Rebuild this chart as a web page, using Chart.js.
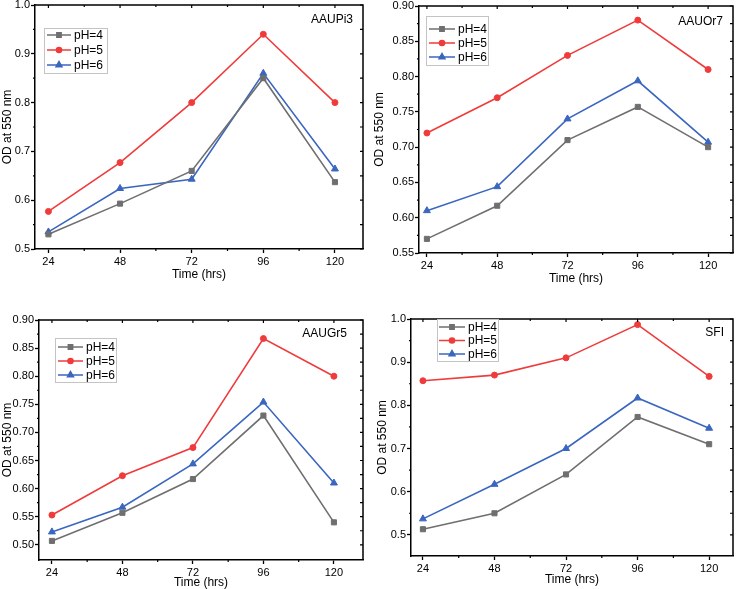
<!DOCTYPE html>
<html>
<head>
<meta charset="utf-8">
<script src="https://cdn.jsdelivr.net/npm/chart.js@4.4.0/dist/chart.umd.min.js"></script>
<style>
  body { margin: 0; background: #fff; }
  canvas { position: absolute; }
</style>
</head>
<body>
<canvas id="AAUPi3Stats" width="370" height="290" style="left:0px;top:0px"></canvas>
<canvas id="AAUOr7Stats" width="371" height="290" style="left:370px;top:0px"></canvas>
<canvas id="AAUGr5Stats" width="370" height="294" style="left:0px;top:295px"></canvas>
<canvas id="SFIStats" width="371" height="294" style="left:370px;top:295px"></canvas>
<script>

//
//
// Data
var hours = [24, 48, 72, 96, 120];
var x_ticks = [24, 48, 72, 96, 120];
var series_labels = ['pH=4', 'pH=5', 'pH=6'];

var aaupi3_ph4 = [0.530, 0.593, 0.660, 0.850, 0.637];
var aaupi3_ph5 = [0.577, 0.677, 0.800, 0.940, 0.800];
var aaupi3_ph6 = [0.535, 0.624, 0.643, 0.860, 0.664];
var aaupi3_y_ticks = [0.5, 0.6, 0.7, 0.8, 0.9, 1.0];

var aauor7_ph4 = [0.570, 0.617, 0.710, 0.757, 0.700];
var aauor7_ph5 = [0.720, 0.770, 0.830, 0.880, 0.810];
var aauor7_ph6 = [0.610, 0.644, 0.740, 0.794, 0.707];
var aauor7_y_ticks = [0.55, 0.60, 0.65, 0.70, 0.75, 0.80, 0.85, 0.90];

var aaugr5_ph4 = [0.507, 0.557, 0.617, 0.730, 0.540];
var aaugr5_ph5 = [0.553, 0.623, 0.673, 0.867, 0.800];
var aaugr5_ph6 = [0.523, 0.567, 0.644, 0.754, 0.610];
var aaugr5_y_ticks = [0.50, 0.55, 0.60, 0.65, 0.70, 0.75, 0.80, 0.85, 0.90];

var sfi_ph4 = [0.513, 0.550, 0.640, 0.773, 0.710];
var sfi_ph5 = [0.857, 0.870, 0.910, 0.987, 0.867];
var sfi_ph6 = [0.537, 0.617, 0.700, 0.817, 0.747];
var sfi_y_ticks = [0.5, 0.6, 0.7, 0.8, 0.9, 1.0];

var series_colors = ['#6f6f6f', '#ef3b3b', '#3a66c0'];
var series_styles = ['rect', 'circle', 'triangle'];
var series_radius = [3.6, 3.0, 4.0];

Chart.defaults.font.family = '"Liberation Sans", Arial, sans-serif';
Chart.defaults.color = '#000';

//
//
// Box, mirrored ticks, panel name and legend
var panelFrame = {
  id: 'panelFrame',
  afterDraw: function(chart) {
    var o = chart.options.plugins.panelFrame;
    var c = chart.ctx;
    var a = chart.chartArea;
    var xs = chart.scales.x;
    var ys = chart.scales.y;
    var i, p;

    c.save();
    c.strokeStyle = '#000';
    c.lineWidth = 1.5;
    c.beginPath();
    c.moveTo(a.left, a.top);
    c.lineTo(a.right, a.top);
    c.lineTo(a.right, a.bottom);
    c.stroke();

    c.lineWidth = 1.2;
    c.beginPath();
    // right side ticks (majors and half steps), left minor ticks
    for (i = 0; i < o.y_ticks.length; i++) {
      p = ys.getPixelForValue(o.y_ticks[i]);
      c.moveTo(a.right, p); c.lineTo(a.right - 3, p);
      if (i < o.y_ticks.length - 1) {
        p = ys.getPixelForValue((o.y_ticks[i] + o.y_ticks[i + 1]) / 2);
        c.moveTo(a.right, p); c.lineTo(a.right - 3, p);
        c.moveTo(a.left, p); c.lineTo(a.left - 2, p);
      }
    }
    // top ticks and bottom minor ticks
    for (i = 0; i < x_ticks.length; i++) {
      p = xs.getPixelForValue(x_ticks[i]);
      c.moveTo(p, a.top); c.lineTo(p, a.top + 3);
      if (i < x_ticks.length - 1) {
        p = xs.getPixelForValue((x_ticks[i] + x_ticks[i + 1]) / 2);
        c.moveTo(p, a.bottom); c.lineTo(p, a.bottom + 2);
        c.moveTo(p, a.top); c.lineTo(p, a.top + 2);
      }
    }
    c.stroke();

    //
    // Panel name
    c.fillStyle = '#000';
    c.font = '12px "Liberation Sans", Arial, sans-serif';
    c.textAlign = 'right';
    c.textBaseline = 'middle';
    c.fillText(o.name, o.name_x, o.name_y);

    //
    // Legend
    var lg = o.legend;
    c.fillStyle = '#fff';
    c.fillRect(lg.x, lg.y, lg.w, lg.h);
    c.strokeStyle = '#c4c4c4';
    c.lineWidth = 1;
    c.strokeRect(lg.x + 0.5, lg.y + 0.5, lg.w, lg.h);
    c.textAlign = 'left';
    chart.data.datasets.forEach(function(ds, k) {
      var ry = lg.row0 + k * lg.step;
      var mx = (lg.line_x0 + lg.line_x1) / 2;
      c.strokeStyle = ds.borderColor;
      c.lineWidth = 1.5;
      c.beginPath();
      c.moveTo(lg.line_x0, ry);
      c.lineTo(lg.line_x1, ry);
      c.stroke();
      Chart.helpers.drawPoint(c, {
        pointStyle: ds.pointStyle,
        radius: ds.pointRadius * 0.85,
        rotation: 0,
        borderWidth: 1
      }, mx, ry);
      c.fillStyle = ds.borderColor;
      c.fill();
      c.fillStyle = '#000';
      c.fillText(ds.label, lg.text_x, ry + 0.5);
    });
    c.restore();
  }
};

//
//
// Draw one panel
function drawPanel(canvas_id, panel_name, ph4, ph5, ph6, y_ticks, y_decimals, L) {

  var canvas = document.getElementById(canvas_id);
  var ctx = canvas.getContext('2d');
  var values = [ph4, ph5, ph6];

  var datasets = values.map(function(vals, k) {
    return {
      label: series_labels[k],
      data: hours.map(function(h, i) { return { x: h, y: vals[i] }; }),
      borderColor: series_colors[k],
      backgroundColor: series_colors[k],
      pointBackgroundColor: series_colors[k],
      pointBorderColor: series_colors[k],
      pointStyle: series_styles[k],
      pointRadius: series_radius[k],
      pointBorderWidth: 1,
      borderWidth: 1.6,
      tension: 0,
      fill: false,
      clip: 6
    };
  });

  new Chart(ctx, {
    type: 'line',
    data: { datasets: datasets },
    options: {
      responsive: false,
      animation: false,
      layout: {
        padding: { left: 0, top: L.top, right: canvas.width - L.right, bottom: 0 }
      },
      plugins: {
        legend: { display: false },
        tooltip: { enabled: false },
        panelFrame: {
          name: panel_name,
          name_x: L.name_x,
          name_y: L.name_y,
          y_ticks: y_ticks,
          legend: L.legend
        }
      },
      scales: {
        x: {
          type: 'linear',
          min: L.x_min,
          max: L.x_max,
          afterBuildTicks: function(s) {
            s.ticks = x_ticks.map(function(v) { return { value: v }; });
          },
          afterFit: function(s) {
            s.height = canvas.height - L.bottom;
            s.paddingLeft = 0;
            s.paddingRight = 0;
          },
          grid: { drawOnChartArea: false, drawTicks: true, tickLength: 4, tickColor: '#000', tickWidth: 1.3 },
          border: { display: true, color: '#000', width: 1.5 },
          ticks: {
            color: '#000', padding: 2, autoSkip: false, maxRotation: 0,
            font: { size: 11 },
            callback: function(v) { return String(v); }
          },
          title: {
            display: true, text: 'Time (hrs)', color: '#000',
            font: { size: 12, lineHeight: 1 }, padding: { top: 0, bottom: L.x_title_pad }
          }
        },
        y: {
          type: 'linear',
          min: L.y_min,
          max: L.y_max,
          afterBuildTicks: function(s) {
            s.ticks = y_ticks.map(function(v) { return { value: v }; });
          },
          afterFit: function(s) {
            s.width = L.left;
            s.paddingTop = 0;
            s.paddingBottom = 0;
          },
          grid: { drawOnChartArea: false, drawTicks: true, tickLength: 4, tickColor: '#000', tickWidth: 1.3 },
          border: { display: true, color: '#000', width: 1.5 },
          ticks: {
            color: '#000', padding: 1, autoSkip: false,
            font: { size: 11 },
            callback: function(v) { return v.toFixed(y_decimals); }
          },
          title: {
            display: true, text: 'OD at 550 nm', color: '#000',
            font: { size: 12 }, padding: { top: L.y_title_pad, bottom: 0 }
          }
        }
      }
    },
    plugins: [panelFrame]
  });
}

//
//
// The four panels
drawPanel('AAUPi3Stats', 'AAUPi3', aaupi3_ph4, aaupi3_ph5, aaupi3_ph6, aaupi3_y_ticks, 1, {
  left: 35, top: 4, right: 363, bottom: 249,
  x_min: 19.5, x_max: 129.4, y_min: 0.5, y_max: 1.0,
  x_title_pad: 9, y_title_pad: 0.8,
  name_x: 353, name_y: 20,
  legend: { x: 44, y: 28, w: 63, h: 45, row0: 35, step: 15, line_x0: 47, line_x1: 71, text_x: 74 }
});

drawPanel('AAUOr7Stats', 'AAUOr7', aauor7_ph4, aauor7_ph5, aauor7_ph6, aauor7_y_ticks, 2, {
  left: 49, top: 6, right: 363, bottom: 253,
  x_min: 21.3, x_max: 128.5, y_min: 0.55, y_max: 0.90,
  x_title_pad: 5, y_title_pad: 2.8,
  name_x: 353, name_y: 22,
  legend: { x: 56, y: 16, w: 62, h: 49, row0: 29, step: 14, line_x0: 59, line_x1: 85, text_x: 88 }
});

drawPanel('AAUGr5Stats', 'AAUGr5', aaugr5_ph4, aaugr5_ph5, aaugr5_ph6, aaugr5_y_ticks, 2, {
  left: 39, top: 25, right: 363, bottom: 265,
  x_min: 19.6, x_max: 129.9, y_min: 0.473, y_max: 0.90,
  x_title_pad: 0, y_title_pad: 0,
  name_x: 347, name_y: 39,
  legend: { x: 55, y: 43, w: 61, h: 44, row0: 52, step: 14, line_x0: 58, line_x1: 83, text_x: 86 }
});

drawPanel('SFIStats', 'SFI', sfi_ph4, sfi_ph5, sfi_ph6, sfi_y_ticks, 1, {
  left: 41, top: 24, right: 363, bottom: 261,
  x_min: 20, x_max: 128, y_min: 0.451, y_max: 1.0,
  x_title_pad: 3, y_title_pad: 5.5,
  name_x: 354, name_y: 38,
  legend: { x: 67, y: 24, w: 61, h: 42, row0: 32, step: 13.5, line_x0: 69, line_x1: 95, text_x: 98 }
});

</script>
</body>
</html>
